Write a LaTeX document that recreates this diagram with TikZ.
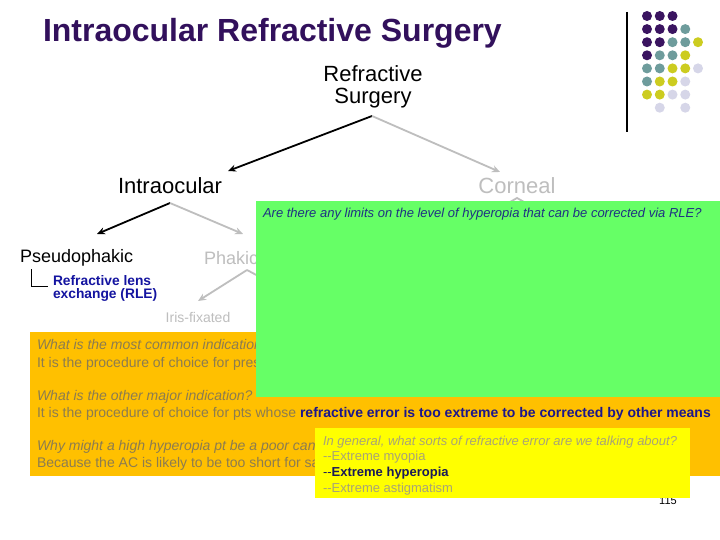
\documentclass[tikz,border=0pt]{standalone}
\usepackage{fontspec}
\setmainfont{Liberation Sans}
\usetikzlibrary{arrows.meta}
\definecolor{titlepurple}{RGB}{50,16,92}
\definecolor{lgray}{RGB}{190,190,190}
\definecolor{rleblue}{RGB}{20,20,160}
\definecolor{orangebox}{RGB}{255,192,0}
\definecolor{greenbox}{RGB}{102,255,102}
\definecolor{yellowbox}{RGB}{255,255,0}
\definecolor{otext}{RGB}{140,124,80}
\definecolor{gtext}{RGB}{30,50,130}
\definecolor{ytext}{RGB}{168,164,118}
\definecolor{navy}{RGB}{25,25,90}
\definecolor{bnavy}{RGB}{28,22,140}
\definecolor{dpurple}{RGB}{58,20,96}
\definecolor{dteal}{RGB}{110,156,156}
\definecolor{dyellow}{RGB}{204,204,32}
\definecolor{dlav}{RGB}{214,214,232}
\tikzset{
  lbl/.style={inner sep=0pt, outer sep=0pt, anchor=base},
  lblw/.style={inner sep=0pt, outer sep=0pt, anchor=base west},
  arrblack/.style={line width=1.8pt, draw=black, -{Stealth[length=8pt,width=7pt]}},
  arrgray/.style={line width=1.8pt, draw=lgray, -{Stealth[length=8pt,width=7pt]}},
  lngray/.style={line width=1.8pt, draw=lgray},
  fbig/.style={font=\fontsize{22}{24}\selectfont},
  fmid/.style={font=\fontsize{18}{20}\selectfont},
  forange/.style={font=\fontsize{14}{16}\selectfont, text=otext},
  forangeit/.style={font=\fontsize{14}{16}\selectfont\itshape, text=otext},
  fsmall/.style={font=\fontsize{13}{15}\selectfont},
  fsmallit/.style={font=\fontsize{13}{15}\selectfont\itshape},
}
\begin{document}
\begin{tikzpicture}[x=1pt,y=-1pt]
\useasboundingbox (0,0) rectangle (720,540);
\fill[white] (0,0) rectangle (720,540);

% title
\node[lblw, font=\fontsize{32}{34}\selectfont\bfseries, text=titlepurple] (title) at (43,42) {Intraocular Refractive Surgery};

% decorative dots
\draw[line width=1.3pt] (627,12) coordinate (vlA) -- (627,132) coordinate (vlB);
\foreach \c/\r/\col in {1/1/dpurple,2/1/dpurple,3/1/dpurple,
  1/2/dpurple,2/2/dpurple,3/2/dpurple,4/2/dteal,
  1/3/dpurple,2/3/dpurple,3/3/dteal,4/3/dteal,5/3/dyellow,
  1/4/dpurple,2/4/dteal,3/4/dteal,4/4/dyellow,
  1/5/dteal,2/5/dteal,3/5/dyellow,4/5/dyellow,5/5/dlav,
  1/6/dteal,2/6/dyellow,3/6/dyellow,4/6/dlav,
  1/7/dyellow,2/7/dyellow,3/7/dlav,4/7/dlav,
  2/8/dlav,4/8/dlav}
  \fill[\col] ({634.25+12.75*\c},{2.9+13.1*\r}) circle[radius=5];

% tree
\node[lbl, fbig] (rs1) at (373,82) {Refractive};
\node[lbl, fbig] (rs2) at (373,104) {Surgery};
\coordinate (rsA) at (372,116);
\coordinate (intTip) at (228,171);
\coordinate (corTip) at (500,172);
\draw[arrblack] (rsA) -- (intTip);
\draw[arrgray] (rsA) -- (corTip);

\node[lbl, fbig] (intra) at (170,194) {Intraocular};
\node[lbl, fbig, text=lgray] (corn) at (517,194) {Corneal};

\coordinate (inA) at (170,203);
\coordinate (pseTip) at (97,234);
\coordinate (phaTip) at (243,234);
\draw[arrblack] (inA) -- (pseTip);
\draw[arrgray] (inA) -- (phaTip);

\coordinate (coA) at (517,198);
\coordinate (coL) at (470,225);
\coordinate (coR) at (565,225);
\draw[lngray] (coL) -- (coA) -- (coR);

\node[lblw, fmid] (pseudo) at (20,262) {Pseudophakic};
\node[lblw, fmid, text=lgray] (phakic) at (204,264) {Phakic};

\coordinate (tA) at (31,269);
\coordinate (tB) at (31,286);
\coordinate (tC) at (48,286);
\draw[line width=1pt] (tA) -- (tB) -- (tC);
\node[lblw, font=\fontsize{13.8}{15}\selectfont\bfseries, text=rleblue] (rle1) at (53,285) {Refractive lens};
\node[lblw, font=\fontsize{13.8}{15}\selectfont\bfseries, text=rleblue] (rle2) at (53,298) {exchange (RLE)};

\coordinate (phA) at (247,270);
\coordinate (irisTip) at (198,301);
\coordinate (phR) at (275,285);
\draw[arrgray] (phA) -- (irisTip);
\draw[lngray] (phA) -- (phR);
\node[lbl, font=\fontsize{14}{16}\selectfont, text=lgray] (iris) at (198,322) {Iris-fixated};

% orange box
\fill[orangebox] (30,332) rectangle (720,476);
\node[lblw, forangeit] (o1) at (37,349) {What is the most common indication};
\node[lblw, forange] (o2) at (37,367) {It is the procedure of choice for pres};
\node[lblw, forangeit] (o3) at (37,400) {What is the other major indication?};
\node[lblw, forange] (o4) at (37,417) {It is the procedure of choice for pts whose {\bfseries\color{bnavy}refractive error is too extreme to be corrected by other means}};
\node[lblw, forangeit] (o5) at (37,450) {Why might a high hyperopia pt be a poor can};
\node[lblw, forange] (o6) at (37,467) {Because the AC is likely to be too short for sa};

% green box
\fill[greenbox] (256,201) rectangle (720,397);
\node[lblw, fsmallit, text=gtext] (g1) at (263,218) {Are there any limits on the level of hyperopia that can be corrected via RLE?};

% page number
\node[lbl, font=\fontsize{11}{12}\selectfont] (pnum) at (668,504) {115};

% yellow box
\fill[yellowbox] (315,428) rectangle (690,498);
\node[lblw, fsmallit, text=ytext] (y1) at (323,445) {In general, what sorts of refractive error are we talking about?};
\node[lblw, fsmall, text=ytext] (y2) at (323,460) {-{}-Extreme myopia};
\node[lblw, fsmall, text=navy] (y3) at (323,476) {-{}-{\bfseries Extreme hyperopia}};
\node[lblw, fsmall, text=ytext] (y4) at (323,492) {-{}-Extreme astigmatism};
\end{tikzpicture}
\end{document}
